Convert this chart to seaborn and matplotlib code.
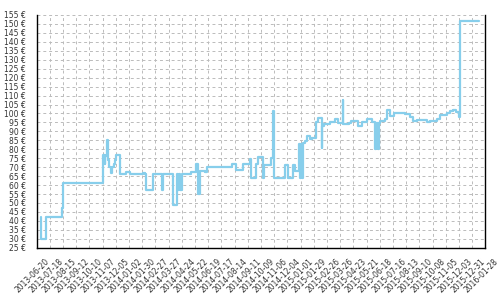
import matplotlib
matplotlib.use("Agg")
import matplotlib.pyplot as plt
import matplotlib.transforms as mtransforms
import seaborn as sns
import pandas as pd

dates = [
    "2013-06-29", "2013-06-30", "2013-07-10", "2013-08-13", "2013-08-14",
    "2013-11-07", "2013-11-11", "2013-11-13", "2013-11-17", "2013-11-18",
    "2013-11-21", "2013-11-24", "2013-11-27", "2013-12-01", "2013-12-03",
    "2013-12-06", "2013-12-14", "2013-12-27", "2014-01-03", "2014-02-01",
    "2014-02-04", "2014-02-08", "2014-02-21", "2014-03-12", "2014-03-16",
    "2014-04-05", "2014-04-14", "2014-04-16", "2014-04-18", "2014-04-20",
    "2014-04-24", "2014-05-13", "2014-05-23", "2014-05-29", "2014-06-02",
    "2014-06-12", "2014-06-16", "2014-08-08", "2014-08-17", "2014-08-31",
    "2014-09-16", "2014-09-17", "2014-09-28", "2014-10-02", "2014-10-14",
    "2014-10-16", "2014-10-30", "2014-11-03", "2014-11-05", "2014-11-29",
    "2014-12-06", "2014-12-15", "2014-12-20", "2014-12-29", "2014-12-31",
    "2015-01-02", "2015-01-04", "2015-01-07", "2015-01-10", "2015-01-14",
    "2015-01-20", "2015-01-25", "2015-02-03", "2015-02-08", "2015-02-15",
    "2015-02-16", "2015-02-20", "2015-03-04", "2015-03-15", "2015-03-22",
    "2015-03-31", "2015-04-02", "2015-04-14", "2015-04-19", "2015-05-03",
    "2015-05-12", "2015-05-21", "2015-06-01", "2015-06-08", "2015-06-11",
    "2015-06-14", "2015-06-16", "2015-06-19", "2015-06-29", "2015-07-03",
    "2015-07-10", "2015-07-19", "2015-08-11", "2015-08-21", "2015-08-28",
    "2015-09-05", "2015-09-27", "2015-10-03", "2015-10-17", "2015-10-24",
    "2015-11-07", "2015-11-14", "2015-11-21", "2015-11-26", "2015-12-03",
    "2015-12-06", "2016-01-14",
]
prices = [
    42, 30, 42, 47, 61,
    77, 72, 76, 85, 74,
    70, 67, 70, 72, 74,
    77, 66, 67.5, 66, 67,
    66, 57.5, 66, 57.5, 66,
    49, 66, 57.5, 66, 57.5,
    66, 67.5, 72, 55, 68,
    67.5, 70, 72, 68.5, 72,
    74.5, 64, 72, 75.5, 64,
    71, 75, 101.5, 64, 71,
    64, 71, 68, 83, 64,
    83, 64, 83.7, 84.5, 87.6,
    85.5, 86.5, 95.4, 97.3, 80.5,
    93.2, 94, 95, 96.7, 94.8,
    107.5, 94.1, 94.8, 96, 93.2,
    95, 96.9, 95.1, 80.1, 94.5,
    80, 94.5, 96, 96.9, 101.9,
    98.5, 100, 99.5, 98.2, 96,
    96.4, 95, 96, 96.9, 99.1,
    100.4, 101.4, 101.9, 101, 98.2,
    151.7, 151.7,
]
y_ticks = list(range(25, 160, 5))
x_start, x_end = "2013-06-20", "2016-01-28"

df = pd.DataFrame({"date": pd.to_datetime(dates), "price": prices})

sns.set_style("white")
plt.rcParams["font.family"] = ["DejaVu Sans"]

fig = plt.figure(figsize=(5, 3), dpi=100)
ax = fig.add_axes([0.0734, 0.1743, 0.8972, 0.7757])

sns.lineplot(data=df, x="date", y="price", ax=ax, estimator=None,
             drawstyle="steps-post", color="#87ceeb", linewidth=1.6)

xt = pd.date_range(x_start, x_end, freq="28D")
ax.set_xlim(pd.Timestamp(x_start), pd.Timestamp(x_end))
ax.set_ylim(25, 155)
ax.set_xticks(xt)
ax.set_xticklabels([d.strftime("%Y-%m-%d") for d in xt], rotation=45,
                   ha="center", fontsize=5.5, color="#333333")
ax.set_yticks(y_ticks)
ax.set_yticklabels([f"{v} €" for v in y_ticks], fontsize=5.5, color="#333333")
ax.set_xlabel("")
ax.set_ylabel("")

ax.grid(True, color="#bbbbbb", linestyle=(0, (3, 3)), linewidth=0.7)
ax.set_axisbelow(True)
ax.tick_params(axis="both", direction="inout", length=7, width=1, color="black")
ax.tick_params(axis="x", pad=3)
ax.tick_params(axis="y", pad=4.5)
for s in ["left", "bottom", "right"]:
    ax.spines[s].set_visible(True)
    ax.spines[s].set_color("black")
    ax.spines[s].set_linewidth(1)
ax.spines["top"].set_visible(False)

offset = mtransforms.ScaledTranslation(-4 / 100, 0, fig.dpi_scale_trans)
for lbl in ax.get_xticklabels():
    lbl.set_transform(lbl.get_transform() + offset)

fig.savefig("out.png", dpi=100)
